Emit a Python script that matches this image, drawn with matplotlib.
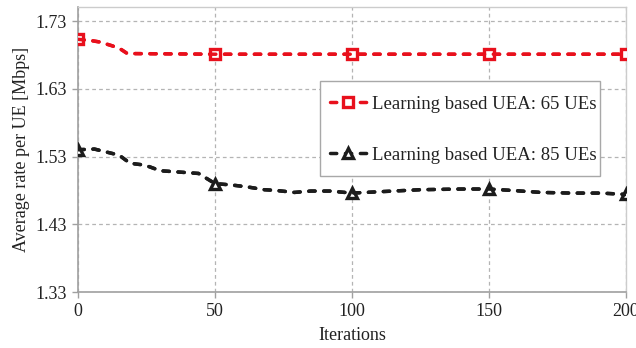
import matplotlib.pyplot as plt
from matplotlib.patches import Rectangle

plt.rcParams["font.family"] = ["Liberation Serif", "DejaVu Serif"]

# average rate per UE vs. iteration for the two network loads
iters_65 = [0, 5, 8, 12, 15, 18, 50, 100, 150, 200]
rate_65 = [1.703, 1.701, 1.699, 1.694, 1.690, 1.682, 1.681, 1.681, 1.681, 1.681]

iters_85 = [0, 6, 15, 19, 23, 26, 30, 37, 44, 50, 56, 62, 68, 72, 79, 85, 92,
            100, 110, 125, 140, 150, 158, 169, 180, 191, 200]
rate_85 = [1.540, 1.541, 1.532, 1.520, 1.518, 1.515, 1.509, 1.507, 1.505, 1.490,
           1.488, 1.485, 1.481, 1.480, 1.477, 1.479, 1.479, 1.476, 1.478, 1.481,
           1.482, 1.482, 1.480, 1.477, 1.476, 1.476, 1.474]

labels = ["Learning based UEA: 65 UEs", "Learning based UEA: 85 UEs"]
x_ticks = [0, 50, 100, 150, 200]
y_ticks = [1.33, 1.43, 1.53, 1.63, 1.73]

RED = "#e8101c"
BLACK = "#1c1c1c"
GRID = "#b4b4b4"


def marker_idx(iters):
    return [i for i, it in enumerate(iters) if it % 50 == 0]


fig = plt.figure(figsize=(6.36, 3.48), dpi=100)
ax = fig.add_axes([78 / 636, 56 / 348, 548 / 636, 285 / 348])

line_kw = dict(lw=2.5, dashes=(1.8, 2.5), dash_capstyle="round")
mark_kw = dict(markersize=7.5, markeredgewidth=2.4, markerfacecolor="white")

series = [(iters_65, rate_65, RED, "s", labels[0]),
          (iters_85, rate_85, BLACK, "^", labels[1])]
for xs, ys, col, mk, lab in series:
    # markers + line for the legend entry, then the dashed line redrawn on top
    ax.plot(xs, ys, color=col, marker=mk, markevery=marker_idx(xs),
            label=lab, zorder=3, **line_kw, **mark_kw)
    ax.plot(xs, ys, color=col, zorder=4, **line_kw)

ax.set_xlim(0, 200)
ax.set_ylim(1.33, 1.7507)
ax.set_xticks(x_ticks)
ax.set_yticks(y_ticks)
ax.set_yticklabels([f"{v:.2f}" for v in y_ticks])

ax.grid(True, color=GRID, lw=0.9, linestyle=(0, (3, 2.5)))
ax.set_axisbelow(True)

for side in ("left", "bottom"):
    ax.spines[side].set_color("#a0a0a0")
    ax.spines[side].set_linewidth(1.2)
for side in ("top", "right"):
    ax.spines[side].set_color("#cccccc")
    ax.spines[side].set_linewidth(1.0)

ax.tick_params(axis="both", direction="out", length=4, width=1,
               color="#a0a0a0", labelsize=13, labelcolor="#222222", pad=4)

ax.set_xlabel("Iterations", fontsize=13, color="#222222", labelpad=5)
ax.set_ylabel("Average rate per UE [Mbps]", fontsize=13, color="#222222",
              labelpad=4)

# legend box is drawn by hand so the padding can be tight on the right
box = Rectangle((0.4416, 0.407), 0.511, 0.333, transform=ax.transAxes,
                facecolor="white", edgecolor="#a8a8a8", lw=1.0, zorder=5)
ax.add_patch(box)

leg = ax.legend(loc="center left", bbox_to_anchor=(0.46, 0.569),
                fontsize=13.5, frameon=False, handlelength=1.95,
                handletextpad=0.3, labelspacing=1.8, borderpad=0,
                borderaxespad=0)
leg.set_zorder(6)
for t in leg.get_texts():
    t.set_color("#222222")

fig.savefig("out.png", dpi=100)
